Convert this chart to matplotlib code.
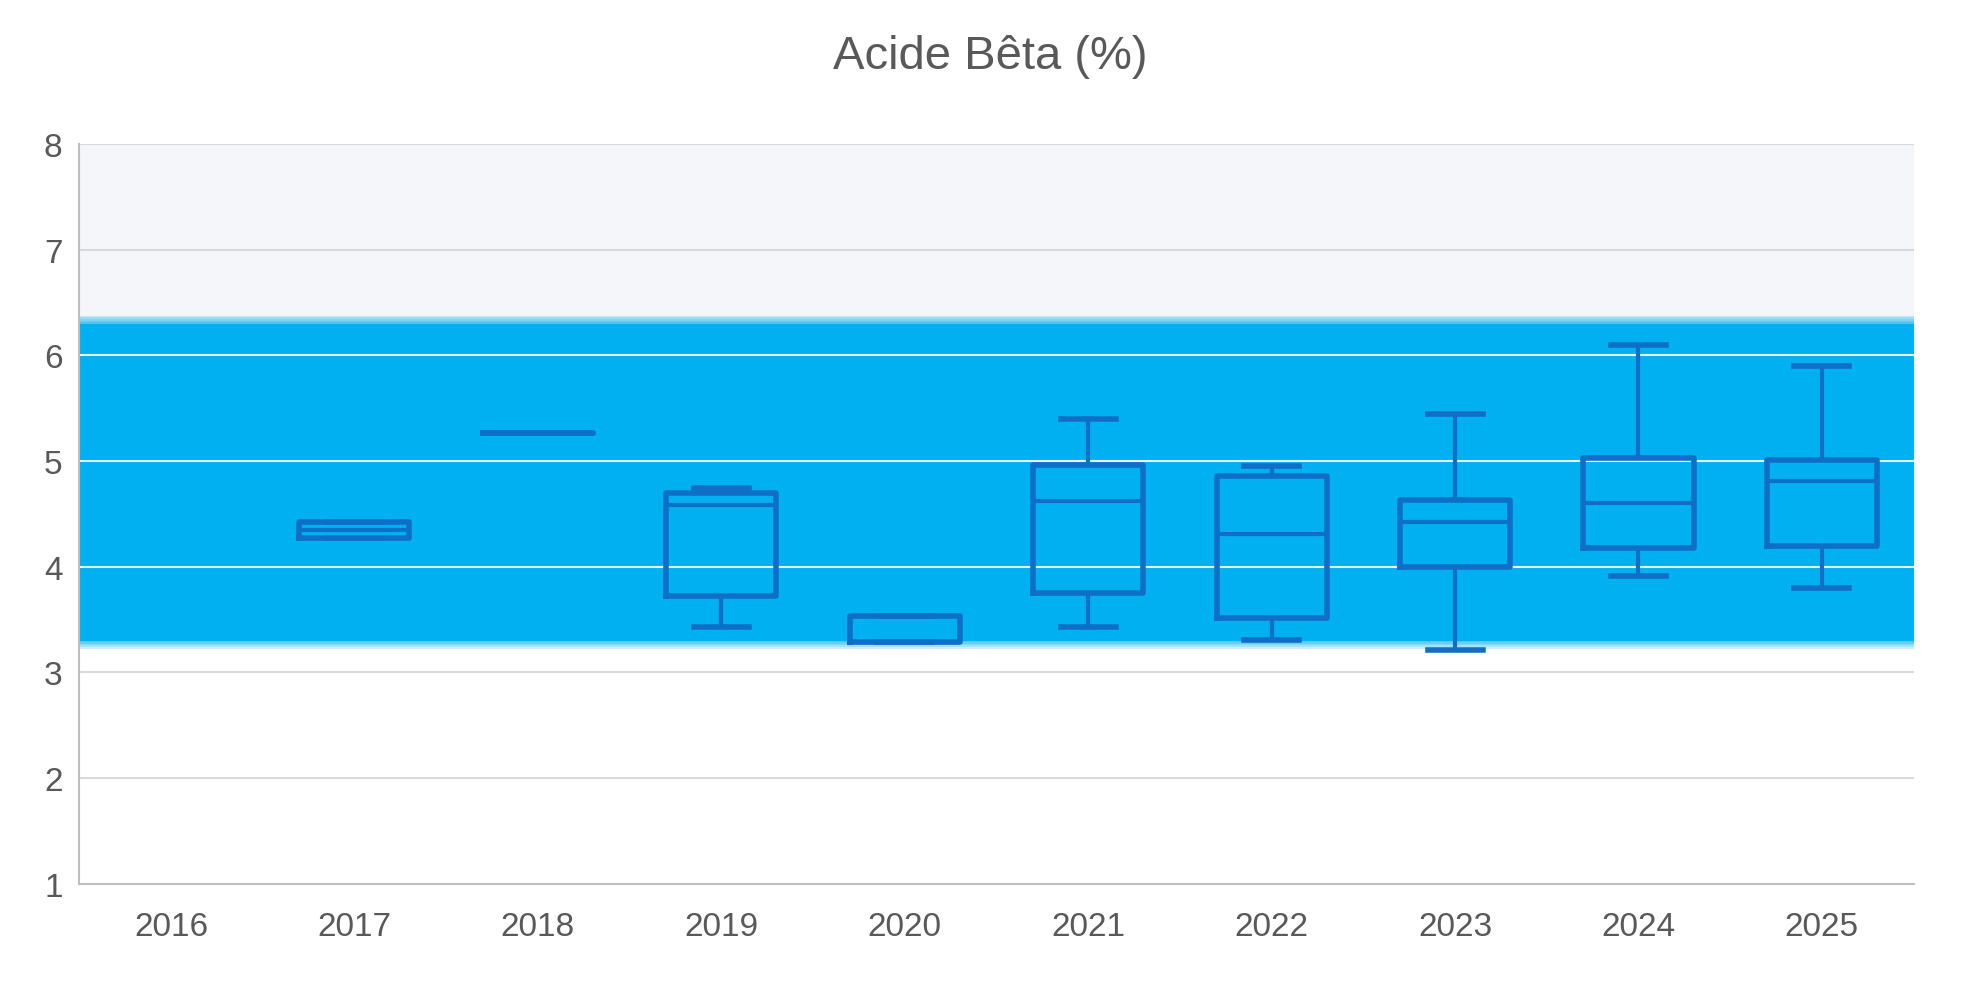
import matplotlib.pyplot as plt
import numpy as np

years = ['2016', '2017', '2018', '2019', '2020', '2021', '2022', '2023', '2024', '2025']
w_low = [None, 4.27, 5.27, 3.43, 3.29, 3.43, 3.31, 3.21, 3.91, 3.80]
q1 = [None, 4.27, 5.27, 3.72, 3.29, 3.75, 3.51, 4.00, 4.18, 4.20]
med = [None, 4.35, 5.27, 4.58, 3.29, 4.62, 4.31, 4.42, 4.60, 4.81]
q3 = [None, 4.42, 5.27, 4.70, 3.53, 4.96, 4.86, 4.63, 5.03, 5.01]
w_high = [None, 4.42, 5.27, 4.75, 3.53, 5.40, 4.95, 5.45, 6.10, 5.90]
band_lo, band_hi = 3.3, 6.3

plt.rcParams['font.family'] = ['Liberation Sans', 'DejaVu Sans']
fig = plt.figure(figsize=(19.81, 9.95), dpi=100)
ax = fig.add_axes([0.04, 0.111, 0.926, 0.743])

ax.axhspan(band_hi, 8, color='#F5F6F9', zorder=0)
# soft-edged blue band
for k, a in enumerate(np.linspace(0.25, 1, 6)):
    d = 0.05 * (5 - k)
    ax.axhspan(band_lo - d * 0.3, band_hi + d * 0.3, color='#00B0F0', alpha=a if k == 5 else 0.2, lw=0, zorder=0.5)
ax.axhspan(band_lo, band_hi, color='#00B0F0', lw=0, zorder=0.6)

for y in range(2, 9):
    ax.axhline(y, color='#D9D9D9' if (y < band_lo or y > band_hi) else '#E8F4FB', lw=1.5, zorder=1)

stats = []
pos = []
for i in range(len(years)):
    if q1[i] is None:
        continue
    stats.append(dict(whislo=w_low[i], q1=q1[i], med=med[i], q3=q3[i], whishi=w_high[i], fliers=[]))
    pos.append(i)
c = '#0F6FC6'
ax.bxp(stats, positions=pos, widths=0.6, showfliers=False, manage_ticks=False,
       boxprops=dict(color=c, lw=4), medianprops=dict(color=c, lw=3),
       whiskerprops=dict(color=c, lw=3), capprops=dict(color=c, lw=4),
       zorder=3)

ax.set_xlim(-0.5, len(years) - 0.5)
ax.set_ylim(1, 8)
ax.set_xticks(range(len(years)))
ax.set_xticklabels(years)
ax.set_yticks(range(1, 9))
ax.tick_params(length=0, labelsize=24, colors='#595959', pad=20)
ax.tick_params(axis='y', pad=12)
for s in ['top', 'right']:
    ax.spines[s].set_visible(False)
for s in ['left', 'bottom']:
    ax.spines[s].set_color('#BFBFBF')
    ax.spines[s].set_linewidth(1.5)
fig.suptitle('Acide Bêta (%)', fontsize=34, color='#595959', y=0.965)
fig.savefig('out.png')
